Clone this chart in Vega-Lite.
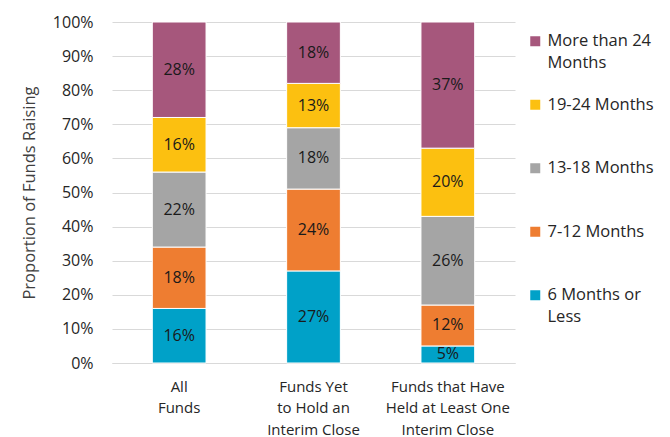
{
  "$schema": "https://vega.github.io/schema/vega-lite/v6.json",
  "width": 403,
  "height": 341,
  "autosize": "none",
  "padding": {"left": 112, "top": 22, "right": 155, "bottom": 74},
  "config": {"font": "Open Sans", "view": {"stroke": null}, "style": {"guide-label": {"lineHeight": 22}}},
  "data": {
    "values": [
      {"category": "All Funds", "period": "6 Months or Less", "ord": 1, "value": 0.16},
      {"category": "All Funds", "period": "7-12 Months", "ord": 2, "value": 0.18},
      {"category": "All Funds", "period": "13-18 Months", "ord": 3, "value": 0.22},
      {"category": "All Funds", "period": "19-24 Months", "ord": 4, "value": 0.16},
      {"category": "All Funds", "period": "More than 24 Months", "ord": 5, "value": 0.28},
      {"category": "Funds Yet to Hold an Interim Close", "period": "6 Months or Less", "ord": 1, "value": 0.27},
      {"category": "Funds Yet to Hold an Interim Close", "period": "7-12 Months", "ord": 2, "value": 0.24},
      {"category": "Funds Yet to Hold an Interim Close", "period": "13-18 Months", "ord": 3, "value": 0.18},
      {"category": "Funds Yet to Hold an Interim Close", "period": "19-24 Months", "ord": 4, "value": 0.13},
      {"category": "Funds Yet to Hold an Interim Close", "period": "More than 24 Months", "ord": 5, "value": 0.18},
      {"category": "Funds that Have Held at Least One Interim Close", "period": "6 Months or Less", "ord": 1, "value": 0.05},
      {"category": "Funds that Have Held at Least One Interim Close", "period": "7-12 Months", "ord": 2, "value": 0.12},
      {"category": "Funds that Have Held at Least One Interim Close", "period": "13-18 Months", "ord": 3, "value": 0.26},
      {"category": "Funds that Have Held at Least One Interim Close", "period": "19-24 Months", "ord": 4, "value": 0.20},
      {"category": "Funds that Have Held at Least One Interim Close", "period": "More than 24 Months", "ord": 5, "value": 0.37}
    ]
  },
  "encoding": {
    "x": {
      "field": "category",
      "type": "nominal",
      "sort": ["All Funds", "Funds Yet to Hold an Interim Close", "Funds that Have Held at Least One Interim Close"],
      "scale": {"paddingInner": 0.6, "paddingOuter": 0.3},
      "axis": {
        "title": null,
        "labelAngle": 0,
        "labelFontSize": 15,
        "labelColor": "#262626",
        "labelPadding": 16,
        "labelLineHeight": 21.5,
        "labelLimit": 300,
        "ticks": false,
        "domainColor": "#D9D9D9",
        "labelExpr": "datum.label == 'All Funds' ? ['All', 'Funds'] : datum.label == 'Funds Yet to Hold an Interim Close' ? ['Funds Yet', 'to Hold an', 'Interim Close'] : ['Funds that Have', 'Held at Least One', 'Interim Close']"
      }
    },
    "y": {
      "field": "value",
      "type": "quantitative",
      "stack": "zero",
      "scale": {"domain": [0, 1], "nice": false},
      "axis": {
        "title": "Proportion of Funds Raising",
        "titleFontSize": 16.5,
        "titleFontWeight": "normal",
        "titleColor": "#404040",
        "titlePadding": 15,
        "values": [0, 0.1, 0.2, 0.3, 0.4, 0.5, 0.6, 0.7, 0.8, 0.9, 1],
        "format": ".0%",
        "labelFontSize": 16,
        "labelColor": "#262626",
        "labelPadding": 19,
        "ticks": false,
        "domain": false,
        "gridColor": "#D9D9D9"
      }
    },
    "order": {"field": "ord", "type": "quantitative", "sort": "ascending"}
  },
  "layer": [
    {
      "mark": {"type": "bar", "stroke": "white", "strokeWidth": 1},
      "encoding": {
        "color": {
          "field": "period",
          "type": "nominal",
          "scale": {
            "domain": ["More than 24 Months", "19-24 Months", "13-18 Months", "7-12 Months", "6 Months or Less"],
            "range": ["#A6577C", "#FCC010", "#A5A5A5", "#EE7D31", "#00A1C8"]
          },
          "legend": {
            "title": null,
            "orient": "none",
            "legendX": 415,
            "legendY": 11,
            "padding": 0,
            "symbolType": "square",
            "symbolSize": 100,
            "symbolStrokeWidth": 0,
            "labelFontSize": 16.5,
            "labelColor": "#262626",
            "labelLimit": 300,
            "labelOffset": 4,
            "gridAlign": "all",
            "rowPadding": 24.5,
            "labelExpr": "datum.label == 'More than 24 Months' ? ['More than 24', 'Months'] : datum.label == '6 Months or Less' ? ['6 Months or', 'Less'] : datum.label"
          }
        }
      }
    },
    {
      "mark": {"type": "text", "fontSize": 16, "color": "#1A1A1A"},
      "encoding": {
        "text": {"field": "value", "type": "quantitative", "format": ".0%"},
        "y": {"field": "value", "type": "quantitative", "stack": "zero", "bandPosition": 0.5}
      }
    }
  ]
}
